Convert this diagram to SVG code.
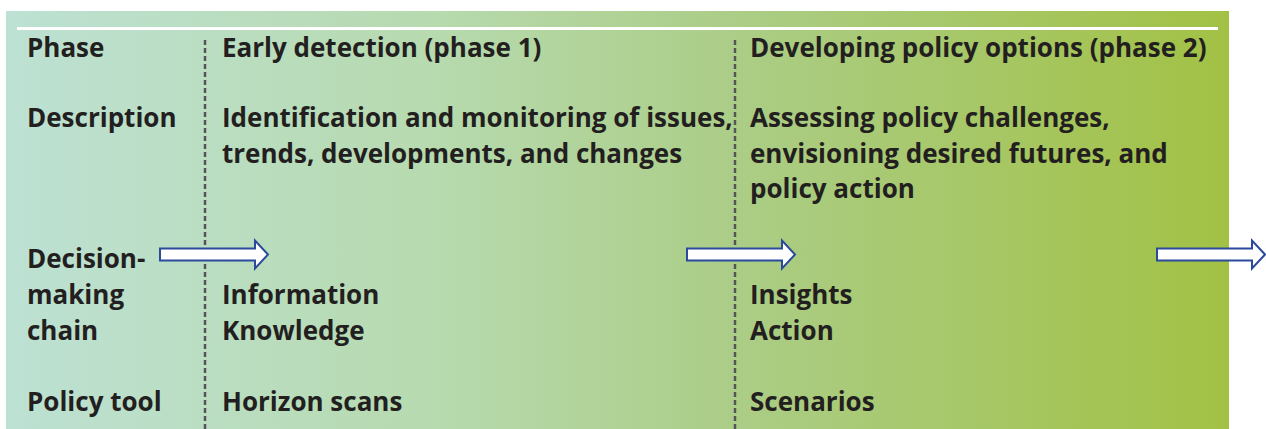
<svg xmlns="http://www.w3.org/2000/svg" width="1266" height="429" viewBox="0 0 1266 429">
<defs>
<linearGradient id="bg" x1="0" y1="0" x2="1" y2="0">
<stop offset="0" stop-color="#bde1d3"/>
<stop offset="0.35" stop-color="#b7daaf"/>
<stop offset="0.6" stop-color="#abcd86"/>
<stop offset="1" stop-color="#a2c145"/>
</linearGradient>
</defs>
<style>
text{font-family:"Open Sans","Liberation Sans",sans-serif;font-weight:bold;font-size:26px;fill:#231f20}
.dash{stroke:#555557;stroke-width:2.5;stroke-dasharray:5 3;fill:none}
.arrow{fill:#ffffff;stroke:#2b4a9b;stroke-width:2}
</style>
<rect x="6" y="11" width="1223" height="418" fill="url(#bg)"/>
<line x1="17" y1="28.5" x2="1218" y2="28.5" stroke="#ffffff" stroke-width="3"/>
<g id="dividers">
<line class="dash" x1="205" y1="40" x2="205" y2="429"/>
<line class="dash" x1="735" y1="40" x2="735" y2="429"/>
</g>
<g id="labels">
<text x="27" y="57">Phase</text>
<text x="27" y="127">Description</text>
<text x="27" y="268">Decision-</text>
<text x="27" y="304">making</text>
<text x="27" y="340">chain</text>
<text x="27" y="411">Policy tool</text>
</g>
<g id="phase1">
<text x="222" y="57">Early detection (phase 1)</text>
<text x="222" y="127">Identification and monitoring of issues,</text>
<text x="222" y="163">trends, developments, and changes</text>
<text x="222" y="304">Information</text>
<text x="222" y="340">Knowledge</text>
<text x="222" y="411">Horizon scans</text>
</g>
<g id="phase2">
<text x="750" y="57">Developing policy options (phase 2)</text>
<text x="750" y="127">Assessing policy challenges,</text>
<text x="750" y="163">envisioning desired futures, and</text>
<text x="750" y="198">policy action</text>
<text x="750" y="304">Insights</text>
<text x="750" y="340">Action</text>
<text x="750" y="411">Scenarios</text>
</g>
<g id="connectors">
<path class="arrow" d="M160,248.5 H255 V240.5 L268,254.5 L255,268.5 V260.5 H160 Z"/>
<path class="arrow" d="M687,248.5 H782 V240.5 L795,254.5 L782,268.5 V260.5 H687 Z"/>
<path class="arrow" d="M1157,248.5 H1252 V240.5 L1265,254.5 L1252,268.5 V260.5 H1157 Z"/>
</g>
</svg>
